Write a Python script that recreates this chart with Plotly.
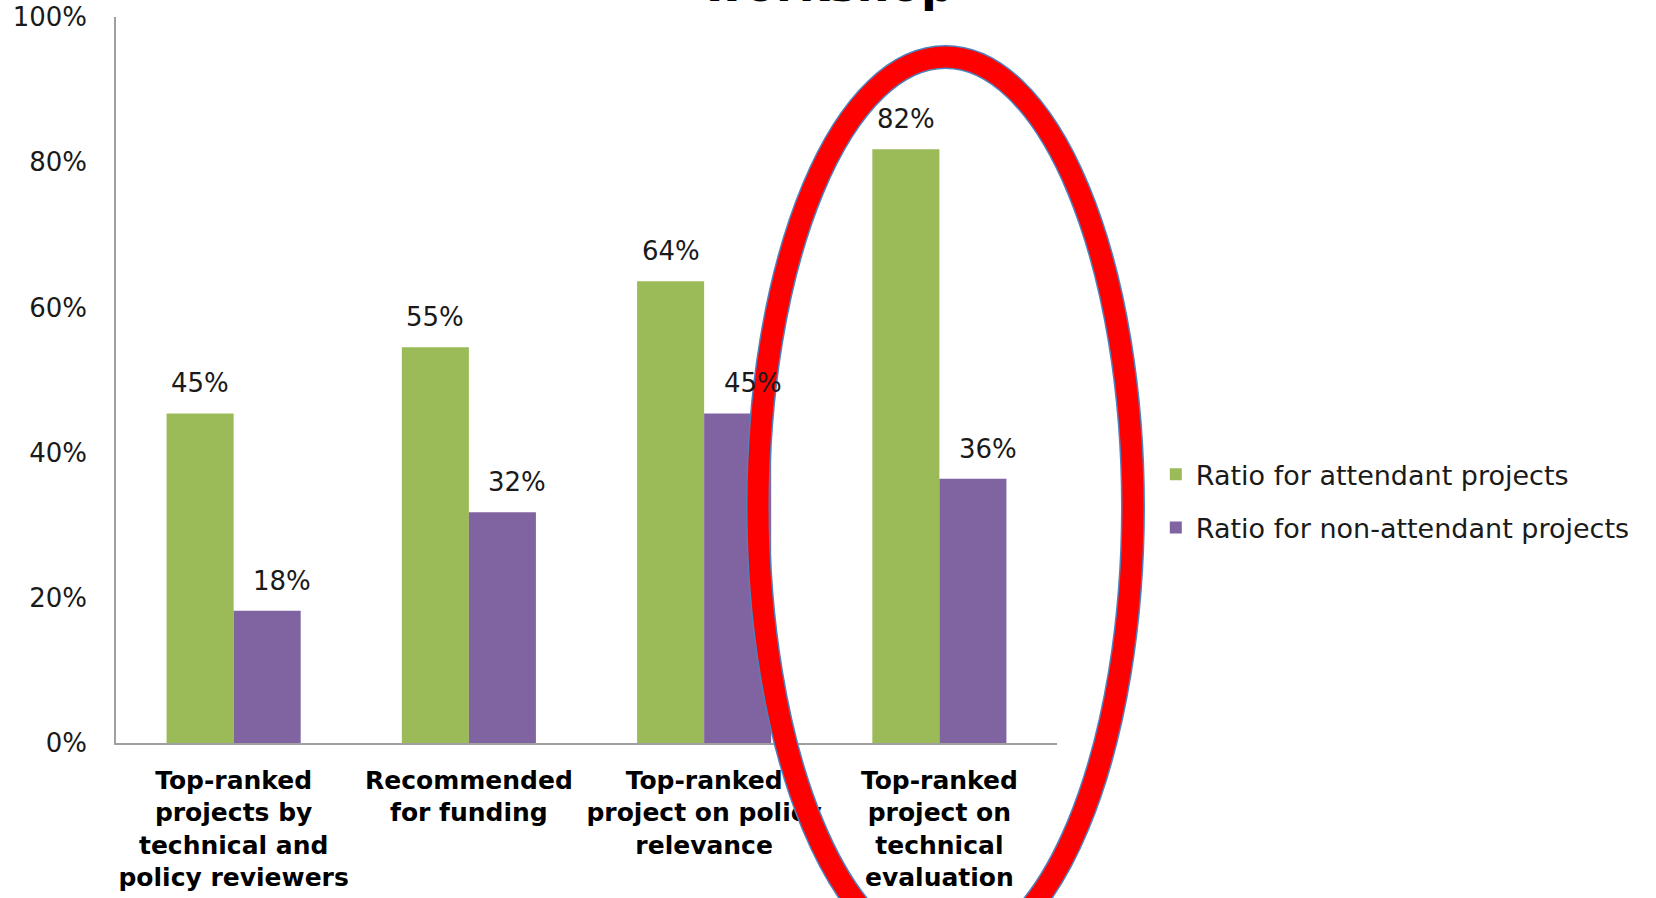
import plotly.graph_objects as go

categories = [
    "Top-ranked<br>projects by<br>technical and<br>policy reviewers",
    "Recommended<br>for funding",
    "Top-ranked<br>project on policy<br>relevance",
    "Top-ranked<br>project on<br>technical<br>evaluation",
]
attendant = [0.454, 0.545, 0.636, 0.818]
non_attendant = [0.182, 0.318, 0.454, 0.364]
series_names = ["Ratio for attendant projects", "Ratio for non-attendant projects"]
colors = ["#9BBB59", "#8064A2"]
title_text = "workshop"

FONT = "DejaVu Sans"
W, H = 1656, 898
L, R, T, B = 116, 599, 17, 155
pw = W - L - R
ph = H - T - B

fig = go.Figure()
for i, (name, vals) in enumerate(zip(series_names, [attendant, non_attendant])):
    fig.add_trace(go.Bar(
        x=categories, y=vals, name=name, marker_color=colors[i],
        marker_line_width=0, legendgroup=f"g{i}",
    ))

annotations = []
bar_px = pw / 4 * 0.57 / 2
for i, vals in enumerate([attendant, non_attendant]):
    shift = -bar_px / 2 if i == 0 else bar_px / 2 + 15
    for c, v in zip(categories, vals):
        annotations.append(dict(
            x=c, y=v, xref="x", yref="y", text=f"{v:.0%}", showarrow=False,
            xshift=shift, yshift=30, yanchor="middle",
            font=dict(family=FONT, size=26, color="#1a1a1a"),
        ))

annotations.append(dict(
    x=0.7565, y=1.004, xref="paper", yref="paper", text=f"<b>{title_text}</b>",
    showarrow=False, xanchor="center", yanchor="bottom",
    font=dict(family=FONT, size=46, color="#000000"),
))

def px2x(p):
    return (p - L) / pw

def py2y(p):
    return (H - B - p) / ph

cx0, cx1, cy0, cy1 = 758, 1133, 57, 957
shapes = [
    dict(type="circle", xref="paper", yref="paper",
         x0=px2x(cx0), x1=px2x(cx1), y0=py2y(cy1), y1=py2y(cy0),
         line=dict(color="#4F81BD", width=24), layer="above"),
    dict(type="circle", xref="paper", yref="paper",
         x0=px2x(cx0), x1=px2x(cx1), y0=py2y(cy1), y1=py2y(cy0),
         line=dict(color="#FF0000", width=21), layer="above"),
]

fig.update_layout(
    width=W, height=H,
    margin=dict(l=L, r=R, t=T, b=B, autoexpand=False),
    paper_bgcolor="white", plot_bgcolor="white",
    barmode="group", bargap=0.43, bargroupgap=0,
    showlegend=True,
    legend=dict(
        x=1.105, y=0.333, xanchor="left", yanchor="middle",
        font=dict(family=FONT, size=27, color="#1a1a1a"),
        tracegroupgap=15, traceorder="grouped",
        bgcolor="rgba(0,0,0,0)",
    ),
    annotations=annotations,
    shapes=shapes,
    font=dict(family=FONT, color="#1a1a1a"),
)
fig.update_xaxes(
    showline=True, linecolor="#A0A0A0", linewidth=1.5, showgrid=False,
    ticks="", tickfont=dict(family=FONT, size=25, color="#000000", weight="bold"),
    ticklabelstandoff=14, tickangle=0,
)
fig.update_yaxes(
    range=[0, 1], dtick=0.2, tickformat=".0%", showline=True, linecolor="#A0A0A0",
    linewidth=1.5, showgrid=False, zeroline=False, ticks="",
    tickfont=dict(family=FONT, size=26, color="#1a1a1a"), ticklabelstandoff=22,
)

fig.write_html("out.html", config={"displayModeBar": False},
               post_script="document.body.style.margin='0';")
